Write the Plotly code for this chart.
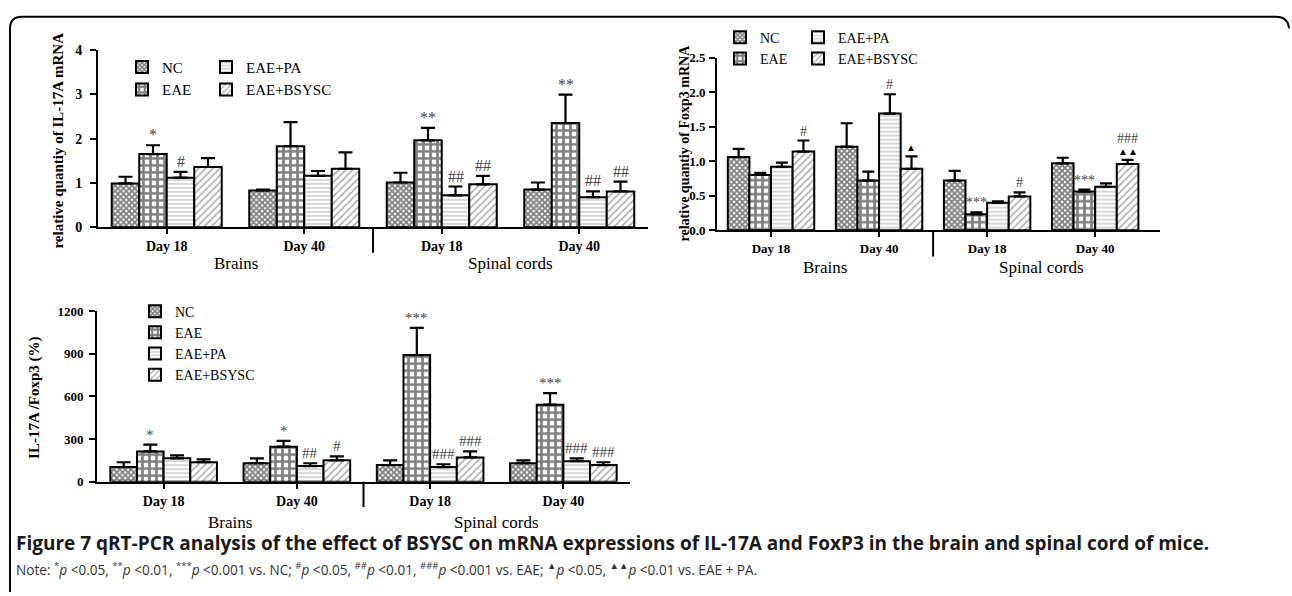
import plotly.graph_objects as go

W, H = 1292, 596

# ---------------- data ----------------
days = ["Day 18", "Day 40", "Day 18", "Day 40"]
series = ["NC", "EAE", "EAE+PA", "EAE+BSYSC"]

il17_mean = {
    "NC": [0.99, 0.83, 1.01, 0.85],
    "EAE": [1.65, 1.83, 1.96, 2.35],
    "EAE+PA": [1.12, 1.16, 0.72, 0.68],
    "EAE+BSYSC": [1.36, 1.32, 0.97, 0.81],
}
il17_sd = {
    "NC": [0.15, 0.02, 0.22, 0.16],
    "EAE": [0.20, 0.54, 0.28, 0.64],
    "EAE+PA": [0.13, 0.11, 0.20, 0.13],
    "EAE+BSYSC": [0.20, 0.37, 0.19, 0.22],
}
foxp3_mean = {
    "NC": [1.06, 1.21, 0.72, 0.97],
    "EAE": [0.80, 0.72, 0.23, 0.56],
    "EAE+PA": [0.92, 1.69, 0.40, 0.63],
    "EAE+BSYSC": [1.14, 0.89, 0.49, 0.96],
}
foxp3_sd = {
    "NC": [0.12, 0.34, 0.14, 0.08],
    "EAE": [0.03, 0.13, 0.03, 0.03],
    "EAE+PA": [0.06, 0.28, 0.02, 0.05],
    "EAE+BSYSC": [0.16, 0.18, 0.06, 0.06],
}
ratio_mean = {
    "NC": [103, 130, 117, 130],
    "EAE": [213, 247, 891, 542],
    "EAE+PA": [165, 110, 103, 144],
    "EAE+BSYSC": [137, 151, 171, 117],
}
ratio_sd = {
    "NC": [34, 35, 34, 21],
    "EAE": [48, 41, 192, 82],
    "EAE+PA": [20, 20, 20, 21],
    "EAE+BSYSC": [21, 27, 42, 20],
}

# significance marks: (group index, series, text)
il17_marks = [(0, "EAE", "*"), (0, "EAE+PA", "#"),
              (2, "EAE", "**"), (2, "EAE+PA", "##"), (2, "EAE+BSYSC", "##"),
              (3, "EAE", "**"), (3, "EAE+PA", "##"), (3, "EAE+BSYSC", "##")]
foxp3_marks = [(0, "EAE+BSYSC", "#"), (1, "EAE+PA", "#"),
               (2, "EAE", "***"), (2, "EAE+BSYSC", "#"),
               (3, "EAE", "***")]
foxp3_tri = [(1, "EAE+BSYSC", "▲"), (3, "EAE+BSYSC", "▲▲")]
foxp3_above_tri = [(3, "EAE+BSYSC", "###")]
ratio_marks = [(0, "EAE", "*"), (1, "EAE", "*"), (1, "EAE+PA", "##"), (1, "EAE+BSYSC", "#"),
               (2, "EAE", "***"), (2, "EAE+PA", "###"), (2, "EAE+BSYSC", "###"),
               (3, "EAE", "***"), (3, "EAE+PA", "###"), (3, "EAE+BSYSC", "###")]

# ---------------- styles ----------------
SERIF = "Liberation Serif"
patterns = {
    "NC": dict(shape="x", size=4, solidity=0.7, fgcolor="black", bgcolor="white"),
    "EAE": dict(shape="+", size=7, solidity=0.62, fgcolor="black", bgcolor="white"),
    "EAE+PA": dict(shape="-", size=4, solidity=0.3, fgcolor="#777777", bgcolor="white"),
    "EAE+BSYSC": dict(shape="/", size=5, solidity=0.3, fgcolor="#555555", bgcolor="white"),
}


def px(x):
    return x / W


def py(y):
    return 1 - y / H


fig = go.Figure()

panels = [
    ("", il17_mean, il17_sd, {"NC": "legend", "EAE": "legend", "EAE+PA": "legend2", "EAE+BSYSC": "legend2"},
     (98, 648), (44, 226), [0, 4], 1, 7, [-0.5, 3.5], 5),
    ("2", foxp3_mean, foxp3_sd, {"NC": "legend3", "EAE": "legend3", "EAE+PA": "legend4", "EAE+BSYSC": "legend4"},
     (717, 1160), (52, 229), [0, 2.5], 0.5, 6, [-0.5, 3.6], 1),
    ("3", ratio_mean, ratio_sd, {s: "legend5" for s in series},
     (97, 630), (312, 487), [0, 1200], 300, 7, [-0.5, 3.5], 3),
]

for suf, means, sds, legs, dx, dy, yr, dt, capw, xr, so in panels:
    for s in series:
        fig.add_trace(go.Bar(
            x=[0, 1, 2, 3], y=means[s], name=s,
            xaxis="x" + suf, yaxis="y" + suf,
            legend=legs[s],
            marker=dict(color="white", line=dict(color="black", width=2),
                        pattern=patterns[s]),
            error_y=dict(type="data", array=sds[s], arrayminus=[0] * 4, symmetric=False,
                         color="black", thickness=2.2, width=capw),
        ))

fig.update_layout(barmode="group", bargap=0.2, bargroupgap=0)

layout_axes = {}
tickfont_sizes = {"": 14, "2": 13, "3": 14}
ytickfont_sizes = {"": 14, "2": 13, "3": 13}
for suf, means, sds, legs, dx, dy, yr, dt, capw, xr, so in panels:
    layout_axes["xaxis" + suf] = dict(
        domain=[px(dx[0]), px(dx[1])], range=xr, anchor="y" + suf,
        showline=True, linecolor="black", linewidth=2, ticks="outside", ticklen=5,
        tickwidth=2, tickcolor="black", tickvals=[0, 1, 2, 3], ticktext=days,
        tickfont=dict(family=SERIF, size=tickfont_sizes[suf], color="black", weight="bold"),
        showgrid=False, zeroline=False, fixedrange=True)
    layout_axes["yaxis" + suf] = dict(
        domain=[py(dy[1]), py(dy[0])], range=yr, dtick=dt, anchor="x" + suf,
        showline=True, linecolor="black", linewidth=2, ticks="outside", ticklen=6,
        tickwidth=2, tickcolor="black", ticklabelstandoff=so,
        tickformat=".1f" if suf == "2" else None,
        tickfont=dict(family=SERIF, size=ytickfont_sizes[suf], color="black", weight="bold"),
        showgrid=False, zeroline=False, fixedrange=True)
fig.update_layout(**layout_axes)


def leg(x, y, size):
    return dict(x=px(x), y=py(y), xanchor="left", yanchor="top", bgcolor="rgba(0,0,0,0)",
                font=dict(family=SERIF, size=size, color="black"), orientation="v",
                tracegroupgap=0, itemclick=False)


fig.update_layout(
    showlegend=True,
    legend=leg(122, 45, 15),
    legend2=leg(206, 45, 15),
    legend3=leg(720, 15, 14),
    legend4=leg(798, 15, 14),
    legend5=leg(135, 296, 14),
)

annotations = []
shapes = []


def add_marks(marks, means, sds, suf, size, color, shift):
    for g, s, txt in marks:
        i = series.index(s)
        xv = g + (i - 1.5) * 0.2
        annotations.append(dict(x=xv, y=means[s][g] + sds[s][g], xref="x" + suf, yref="y" + suf,
                                text=txt, showarrow=False, xanchor="center", yanchor="bottom",
                                yshift=shift,
                                font=dict(family=SERIF, size=size, color=color)))


add_marks(il17_marks, il17_mean, il17_sd, "", 16, "#444444", 0)
add_marks(foxp3_marks, foxp3_mean, foxp3_sd, "2", 14, "#444444", 0)
add_marks(foxp3_tri, foxp3_mean, foxp3_sd, "2", 10, "black", 1)
add_marks(foxp3_above_tri, foxp3_mean, foxp3_sd, "2", 14, "#444444", 12)
add_marks(ratio_marks, ratio_mean, ratio_sd, "3", 15, "#444444", 0)

group_info = [("", 263, 226, 252), ("2", 267, 229, 256), ("3", 529, 487, 513)]
for suf, ylab, y0, y1 in group_info:
    for xv, txt in [(0.5, "Brains"), (2.5, "Spinal cords")]:
        annotations.append(dict(x=xv, y=py(ylab), xref="x" + suf, yref="paper", text=txt,
                                showarrow=False, xanchor="center", yanchor="middle",
                                font=dict(family=SERIF, size=17, color="black")))
    shapes.append(dict(type="line", xref="x" + suf, yref="paper", x0=1.5, x1=1.5,
                       y0=py(y0), y1=py(y1), line=dict(color="black", width=2)))

ytitles = [(58, 137, "relative quantiy of IL-17A mRNA", 15),
           (684, 140, "relative quantiy of Foxp3 mRNA", 14),
           (35, 401, "IL-17A /Foxp3 (%)", 15)]
for x, y, txt, size in ytitles:
    annotations.append(dict(x=px(x), y=py(y), xref="paper", yref="paper", text="<b>" + txt + "</b>",
                            textangle=-90, showarrow=False, xanchor="center", yanchor="middle",
                            font=dict(family=SERIF, size=size, color="black")))

annotations.append(dict(
    x=px(14), y=py(550), xref="paper", yref="paper", xanchor="left", yanchor="middle", showarrow=False,
    text="<b>Figure 7 qRT-PCR analysis of the effect of BSYSC on mRNA expressions of IL-17A and FoxP3 in the brain and spinal cord of mice.</b>",
    font=dict(family="Open Sans", size=19, color="#1a1a1a")))
annotations.append(dict(
    x=px(14), y=py(576), xref="paper", yref="paper", xanchor="left", yanchor="middle", showarrow=False,
    text=("Note: <sup>*</sup><i>p</i> &lt;0.05, <sup>**</sup><i>p</i> &lt;0.01, <sup>***</sup><i>p</i> &lt;0.001 vs. NC; "
          "<sup>#</sup><i>p</i> &lt;0.05, <sup>##</sup><i>p</i> &lt;0.01, <sup>###</sup><i>p</i> &lt;0.001 vs. EAE; "
          "<sup>▲</sup><i>p</i> &lt;0.05, <sup>▲▲</sup><i>p</i> &lt;0.01 vs. EAE + PA."),
    font=dict(family="Open Sans", size=13.6, color="#333333")))

frame = (f"M{px(10)},{py(600)} L{px(10)},{py(22)} Q{px(10)},{py(10)} {px(22)},{py(10)} "
         f"L{px(1276)},{py(10)} Q{px(1288)},{py(10)} {px(1289)},{py(22)}")
shapes.append(dict(type="path", xref="paper", yref="paper", path=frame,
                   line=dict(color="black", width=2)))

fig.update_layout(
    width=W, height=H, margin=dict(l=0, r=0, t=0, b=0),
    paper_bgcolor="white", plot_bgcolor="white",
    annotations=annotations, shapes=shapes,
)

fig.write_html("out.html", config={"displayModeBar": False})
